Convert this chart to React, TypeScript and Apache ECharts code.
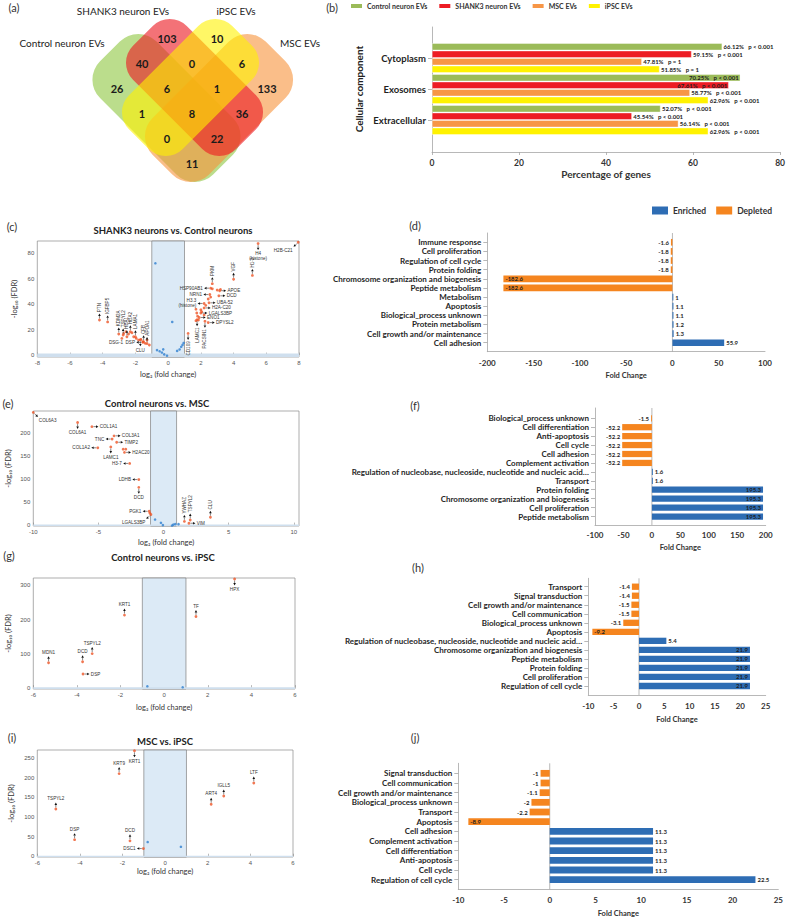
import React, { useEffect, useRef } from 'react';
import * as echarts from 'echarts';

const FONT = 'Lato, "Open Sans", sans-serif';
const PLOT_FONT = '"Liberation Sans", Arial, sans-serif';

// ---------- (a) Venn diagram of EV proteomes ----------
const vennSetNames = ['Control neuron EVs', 'SHANK3 neuron EVs', 'iPSC EVs', 'MSC EVs'];
// region keys use G = control, R = SHANK3, Y = iPSC, O = MSC
const vennRegionKeys = ['R', 'Y', 'GR', 'RY', 'YO', 'G', 'GRY', 'RYO', 'O', 'GY', 'GRYO', 'RO', 'GYO', 'GRO', 'GO'];
const vennRegionCounts = [103, 10, 40, 0, 6, 26, 6, 1, 133, 1, 8, 36, 0, 22, 11];

// ---------- (b) cellular component ----------
const ccCategories = ['Cytoplasm', 'Exosomes', 'Extracellular'];
const evGroups = ['Control neuron EVs', 'SHANK3 neuron EVs', 'MSC EVs', 'iPSC EVs'];
const ccControl = [66.12, 70.25, 52.07];
const ccShank3 = [59.15, 67.61, 45.54];
const ccMsc = [47.81, 58.77, 56.14];
const ccIpsc = [51.85, 62.96, 62.96];
const ccPControl = ['< 0.001', '< 0.001', '< 0.001'];
const ccPShank3 = ['< 0.001', '< 0.001', '< 0.001'];
const ccPMsc = ['= 1', '< 0.001', '< 0.001'];
const ccPIpsc = ['= 1', '< 0.001', '< 0.001'];

// ---------- volcano plots ----------
type Pt = [number, number];

// (c) SHANK3 neurons vs. Control neurons
const cXTicks = [-8, -6, -4, -2, 0, 2, 4, 6, 8];
const cYTicks = [0, 20, 40, 60, 80];
const cSigPoints: Pt[] = [
  [-2.72, 17.0], [-2.58, 18.4], [-2.42, 16.5], [-2.21, 17.5], [-2.11, 14.4], [-1.95, 13.1], [-1.81, 11.8],
  [-1.66, 12.3], [-1.54, 10.5], [-1.4, 9.2], [-1.29, 11.8], [-1.15, 7.9], [-2.83, 13.1],
  [1.7, 36], [1.75, 33], [1.8, 30.5], [1.85, 27.5], [2.0, 35.5], [2.05, 34], [2.2, 31.5], [2.3, 39],
  [2.45, 44], [2.6, 45.5], [1.7, 27], [2.7, 52], [3.0, 51], [3.2, 51.5],
];
const cNsPoints: Pt[] = [
  [-0.78, 72], [0.25, 26], [-0.68, 3.9], [-0.52, 3.0], [-0.38, 2.0], [-0.3, 4.5], [-0.24, 0.6], [-0.07, -0.5],
  [0.55, 3.3], [0.7, 4.4], [0.8, 6.5], [0.88, 8], [0.95, 9.5],
];
const cGenes = ['H2B-C21', 'H4\n(histone)', 'H1-2', 'VGF', 'PKM', 'HSP90AB1', 'APOE', 'DCD', 'NRN1', 'H3.3\n(histone)',
  'UBA-52', 'H2A-C20', 'LGALS3BP', 'ENO1', 'DPYSL2', 'LAMC1', 'PACSIN1', 'CD109', 'PTN', 'IGFBP5', 'KDM2A',
  'TSPYL2', 'HBA1', 'HBA2', 'LAMA1', 'CFB', 'APOA1', 'DSG-1  DSP', 'CLU'];
const cGenePoints: Pt[] = [
  [7.95, 88.5], [5.5, 87.5], [5.15, 62.5], [4.0, 59.5], [2.7, 56], [2.6, 52.5], [3.15, 50.5], [3.1, 46.5],
  [2.55, 47.5], [2.2, 40.5], [2.5, 41], [2.2, 37], [2.0, 33], [1.9, 29.5], [2.45, 25.5], [1.77, 27.8],
  [2.25, 26.5], [1.22, 17], [-4.2, 27.5], [-3.7, 26], [-3.02, 16.5], [-2.75, 15.7], [-2.52, 14.4],
  [-2.31, 18.3], [-2.0, 14.4], [-1.5, 10.4], [-1.29, 9.1], [-1.55, 10], [-1.7, 12],
];
const cGeneDirs = ['dl', 'd', 'U', 'U', 'U', 'l', 'r', 'r', 'l', 'l', 'r', 'r', 'r', 'r', 'r', 'D', 'D', 'D',
  'U', 'U', 'U', 'U', 'U', 'U', 'U', 'U', 'U', 'l', 'd'];

// (e) Control neurons vs. MSC
const eXTicks = [-10, -5, 0, 5, 10];
const eYTicks = [0, 50, 100, 150, 200];
const eSigPoints: Pt[] = [[-3.1, 165], [-2.9, 165], [-1.05, 26]];
const eNsPoints: Pt[] = [[-0.65, 12], [-0.2, 5], [-0.05, 0], [0.65, -1], [0.75, 1], [0.9, 2], [1.15, 2]];
const eGenes = ['COL6A3', 'COL6A1', 'COL1A1', 'COL3A1', 'TNC', 'TIMP2', 'COL1A2', 'LAMC1', 'H2AC20', 'H3-7',
  'LDHB', 'DCD', 'PGK1', 'LGALS3BP', 'YWHAZ', 'TSPYL2', 'VIM', 'CLU'];
const eGenePoints: Pt[] = [
  [-10, 245], [-6.6, 223], [-5.5, 214], [-3.8, 194], [-3.95, 187], [-3.6, 180], [-5.05, 168], [-4.05, 170],
  [-3.0, 158], [-2.6, 134], [-1.9, 99], [-1.9, 82], [-1.1, 30], [-0.97, 23], [1.6, 8], [2.05, 11], [1.95, 4], [3.6, 17],
];
const eGeneDirs = ['dr', 'd', 'r', 'r', 'l', 'r', 'l', 'd', 'r', 'l', 'l', 'd', 'l', 'dl', 'U', 'U', 'r', 'U'];

// (g) Control neurons vs. iPSC
const gXTicks = [-6, -4, -2, 0, 2, 4, 6];
const gYTicks = [0, 100, 200, 300];
const gNsPoints: Pt[] = [[-0.77, 4], [0.85, 1]];
const gGenes = ['HPX', 'KRT1', 'TF', 'MDN1', 'DCD', 'TSPYL2', 'DSP'];
const gGenePoints: Pt[] = [[3.23, 319], [-1.82, 213], [1.46, 209], [-5.3, 73], [-3.74, 76], [-3.3, 100], [-3.72, 40]];
const gGeneDirs = ['d', 'u', 'u', 'u', 'u', 'u', 'r'];

// (i) MSC vs. iPSC
const iXTicks = [-6, -4, -2, 0, 2, 4, 6];
const iYTicks = [0, 50, 100, 150, 200, 250];
const iNsPoints: Pt[] = [[-0.82, 36], [0.74, 24]];
const iGenes = ['KRT1', 'KRT9', 'TSPYL2', 'DSP', 'DCD', 'DSC1', 'ART4', 'IGLL5', 'LTF'];
const iGenePoints: Pt[] = [[-1.44, 268], [-2.16, 210], [-5.13, 120], [-4.25, 42], [-1.65, 39], [-1.02, 19.5],
  [2.16, 132], [2.75, 153], [4.16, 186]];
const iGeneDirs = ['d', 'u', 'u', 'u', 'u', 'l', 'u', 'u', 'u'];

const FC_THRESHOLD = 1;
const FDR_THRESHOLD = 1.3;

// ---------- GO biological process fold changes ----------
const dCategories = ['Immune response', 'Cell proliferation', 'Regulation of cell cycle', 'Protein folding',
  'Chromosome organization and biogenesis', 'Peptide metabolism', 'Metabolism', 'Apoptosis',
  'Biological_process unknown', 'Protein metabolism', 'Cell growth and/or maintenance', 'Cell adhesion'];
const dValues = [-1.6, -1.8, -1.8, -1.8, -182.6, -182.6, 1, 1.1, 1.1, 1.2, 1.3, 55.9];

const fCategories = ['Biological_process unknown', 'Cell differentiation', 'Anti-apoptosis', 'Cell cycle',
  'Cell adhesion', 'Complement activation',
  'Regulation of nucleobase, nucleoside, nucleotide and nucleic acid\u2026', 'Transport', 'Protein folding',
  'Chromosome organization and biogenesis', 'Cell proliferation', 'Peptide metabolism'];
const fValues = [-1.5, -52.2, -52.2, -52.2, -52.2, -52.2, 1.6, 1.6, 195.3, 195.3, 195.3, 195.3];

const hCategories = ['Transport', 'Signal transduction', 'Cell growth and/or maintenance', 'Cell communication',
  'Biological_process unknown', 'Apoptosis',
  'Regulation of nucleobase, nucleoside, nucleotide and nucleic acid\u2026',
  'Chromosome organization and biogenesis', 'Peptide metabolism', 'Protein folding', 'Cell proliferation',
  'Regulation of cell cycle'];
const hValues = [-1.4, -1.4, -1.5, -1.5, -3.1, -9.2, 5.4, 21.9, 21.9, 21.9, 21.9, 21.9];

const jCategories = ['Signal transduction', 'Cell communication', 'Cell growth and/or maintenance',
  'Biological_process unknown', 'Transport', 'Apoptosis', 'Cell adhesion', 'Complement activation',
  'Cell differentiation', 'Anti-apoptosis', 'Cell cycle', 'Regulation of cell cycle'];
const jValues = [-1, -1, -1.1, -2, -2.2, -8.9, 11.3, 11.3, 11.3, 11.3, 11.3, 22.5];

// ---------- styling ----------
const ENRICHED = '#2E6DB4';
const DEPLETED = '#F5851F';
const AXIS_GRAY = '#A6A6A6';
const SIG_COLOR = '#EE5527';
const NS_COLOR = '#2F7FD0';
const SHADE = '#DCEAF6';

const DIR_VEC: Record<string, [number, number]> = {
  u: [0, -1], d: [0, 1], l: [-1, 0], r: [1, 0], U: [0, -1], D: [0, 1],
  dl: [-0.707, 0.707], dr: [0.707, 0.707], ul: [-0.707, -0.707], ur: [0.707, -0.707],
};
const DIR_TEXT: Record<string, [string, string, number]> = {
  u: ['center', 'bottom', 0], d: ['center', 'top', 0], l: ['right', 'middle', 0], r: ['left', 'middle', 0],
  U: ['left', 'middle', Math.PI / 2], D: ['right', 'middle', Math.PI / 2],
  dl: ['right', 'top', 0], dr: ['left', 'top', 0], ul: ['right', 'bottom', 0], ur: ['left', 'bottom', 0],
};

function txt(x: number, y: number, text: string, size: number, opts: any = {}) {
  const align = opts.align || 'center';
  const va = opts.va || 'middle';
  return {
    type: 'text', x, y, rotation: opts.rotation || 0, silent: true, z: 20,
    style: {
      text, fontSize: size, fontWeight: opts.weight || 'normal', fill: opts.color || '#333',
      fontFamily: opts.font || FONT, align, verticalAlign: va, textAlign: align, textVerticalAlign: va,
    },
  };
}

// arrow from a data point towards its gene label
function annotationRenderer(names: string[], dirs: string[]) {
  return (params: any, api: any) => {
    const i = params.dataIndex;
    const p = api.coord([api.value(0), api.value(1)]);
    const d = dirs[i];
    const [vx, vy] = DIR_VEC[d];
    const L = 6.5;
    const x1 = p[0] + vx * 1.6, y1 = p[1] + vy * 1.6;
    const x2 = p[0] + vx * L, y2 = p[1] + vy * L;
    const hl = 2.4, hw = 1.3;
    const bx = x2 - vx * hl, by = y2 - vy * hl;
    const nx = -vy, ny = vx;
    const [align, va, rot] = DIR_TEXT[d];
    const tx = p[0] + vx * (L + 1.3), ty = p[1] + vy * (L + 1.3);
    return {
      type: 'group',
      children: [
        { type: 'line', shape: { x1, y1, x2: bx, y2: by }, style: { stroke: '#111', lineWidth: 0.5 } },
        { type: 'polygon', shape: { points: [[x2, y2], [bx + nx * hw, by + ny * hw], [bx - nx * hw, by - ny * hw]] }, style: { fill: '#111' } },
        {
          type: 'text', x: tx, y: ty, rotation: rot,
          style: { text: names[i], fontSize: 4.6, fill: '#333', fontFamily: PLOT_FONT, align, verticalAlign: va, textAlign: align, textVerticalAlign: va, lineHeight: 5 },
        },
      ],
    };
  };
}

function buildOption() {
  const grid: any[] = [];
  const xAxis: any[] = [];
  const yAxis: any[] = [];
  const series: any[] = [];
  const graphic: any[] = [];

  // ---------- Venn (a) ----------
  const vennShapes = [
    { cx: 166.5, cy: 108, a: 80, b: 40, r: 26, rot: -Math.PI / 4, color: '#8DC63F', op: 0.6 },
    { cx: 219, cy: 108, a: 80, b: 40, r: 26, rot: Math.PI / 4, color: '#F7923A', op: 0.6 },
    { cx: 194.5, cy: 87.5, a: 73, b: 38, r: 24, rot: -Math.PI / 4, color: '#EC1C24', op: 0.62 },
    { cx: 190.5, cy: 87.5, a: 73, b: 38, r: 24, rot: Math.PI / 4, color: '#FFF200', op: 0.6 },
  ];
  vennShapes.forEach((s) => {
    graphic.push({
      type: 'rect', x: s.cx, y: s.cy, rotation: s.rot, silent: true, z: 1,
      shape: { x: -s.a, y: -s.b, width: 2 * s.a, height: 2 * s.b, r: s.r },
      style: { fill: s.color, opacity: s.op },
    });
  });
  const cellRange: Record<string, [[number, number], [number, number]]> = {
    G: [[-2, 1], [0, 1]], R: [[-2, 1], [-1, 0]], Y: [[-1, 0], [-2, 1]], O: [[0, 1], [-2, 1]],
  };
  for (let s = -2; s <= 1; s++) {
    for (let t = -2; t <= 1; t++) {
      const key = ['G', 'R', 'Y', 'O'].filter((k) => {
        const [sr, tr] = cellRange[k];
        return s >= sr[0] && s <= sr[1] && t >= tr[0] && t <= tr[1];
      }).join('');
      const idx = vennRegionKeys.indexOf(key);
      if (idx < 0) continue;
      graphic.push(txt(192 + 25 * (s - t), 113 + 25 * (s + t), String(vennRegionCounts[idx]), 11, { weight: 'bold', color: '#1a1a1a' }));
    }
  }
  graphic.push(txt(62, 43, vennSetNames[0], 10, { color: '#222' }));
  graphic.push(txt(123, 11, vennSetNames[1], 10, { color: '#222' }));
  graphic.push(txt(236, 11, vennSetNames[2], 10, { color: '#222' }));
  graphic.push(txt(300, 43, vennSetNames[3], 10, { color: '#222' }));

  // panel letters
  const letters: [string, number, number][] = [
    ['(a)', 14, 7], ['(b)', 332, 7], ['(c)', 12, 226], ['(d)', 415, 225], ['(e)', 8, 403],
    ['(f)', 415, 405], ['(g)', 9, 555], ['(h)', 418, 567], ['(i)', 12, 737], ['(j)', 415, 737],
  ];
  letters.forEach(([l, x, y]) => graphic.push(txt(x, y, l, 11, { color: '#333' })));

  // ---------- volcano helper ----------
  const addVolcano = (v: any) => {
    const gi = grid.length;
    grid.push({ left: v.box[0], top: v.box[1], width: v.box[2], height: v.box[3], show: true, borderColor: '#8a8a8a', borderWidth: 0.7, backgroundColor: '#fff' });
    xAxis.push({
      gridIndex: gi, type: 'value', min: v.xr[0], max: v.xr[1],
      axisLine: { show: false }, splitLine: { show: false },
      axisTick: { show: true, inside: true, length: 2.5, lineStyle: { color: '#8a8a8a', width: 0.6 }, customValues: v.xt },
      axisLabel: { fontSize: 6, color: '#555', margin: 3, fontFamily: PLOT_FONT, customValues: v.xt },
      name: 'log\u2082 (fold change)', nameLocation: 'middle', nameGap: v.xg,
      nameTextStyle: { fontSize: 7.5, color: '#333', fontFamily: FONT },
    });
    yAxis.push({
      gridIndex: gi, type: 'value', min: v.yr[0], max: v.yr[1],
      axisLine: { show: false }, splitLine: { show: false },
      axisTick: { show: true, inside: true, length: 2.5, lineStyle: { color: '#8a8a8a', width: 0.6 }, customValues: v.yt },
      axisLabel: { fontSize: 6, color: '#555', margin: 3, fontFamily: PLOT_FONT, customValues: v.yt },
      name: '-log\u2081\u2080 (FDR)', nameLocation: 'middle', nameGap: v.yg, nameRotate: 90,
      nameTextStyle: { fontSize: 7.5, color: '#333', fontFamily: FONT },
    });
    series.push({
      type: 'scatter', xAxisIndex: gi, yAxisIndex: gi, data: v.ns, symbolSize: 2.6, silent: true, z: 3,
      itemStyle: { color: NS_COLOR },
      markArea: {
        silent: true,
        data: [
          [{ xAxis: -FC_THRESHOLD, itemStyle: { color: SHADE, borderColor: '#808080', borderWidth: 0.7 } }, { xAxis: FC_THRESHOLD }],
          [{ yAxis: v.yr[0], itemStyle: { color: '#CFDFEE', borderWidth: 0 } }, { yAxis: FDR_THRESHOLD }],
        ],
      },
    });
    series.push({
      type: 'scatter', xAxisIndex: gi, yAxisIndex: gi, data: [...v.sig, ...v.pts], symbolSize: 2.8, silent: true, z: 4,
      itemStyle: { color: SIG_COLOR },
    });
    series.push({
      type: 'custom', xAxisIndex: gi, yAxisIndex: gi, data: v.pts, silent: true, z: 5, clip: false,
      renderItem: annotationRenderer(v.genes, v.dirs),
    });
    graphic.push(txt(v.title[1], v.title[2], v.title[0], 9.5, { weight: 'bold', color: '#222' }));
  };

  addVolcano({ box: [37.3, 241, 261.7, 116], xr: [-8, 8], yr: [-1.5, 89.5], xt: cXTicks, yt: cYTicks, xg: 13, yg: 19,
    ns: cNsPoints, sig: cSigPoints, pts: cGenePoints, genes: cGenes, dirs: cGeneDirs, title: ['SHANK3 neurons vs. Control neurons', 173, 230] });
  addVolcano({ box: [33.3, 411, 265.7, 115], xr: [-10, 10.4], yr: [-2, 248], xt: eXTicks, yt: eYTicks, xg: 12, yg: 21,
    ns: eNsPoints, sig: eSigPoints, pts: eGenePoints, genes: eGenes, dirs: eGeneDirs, title: ['Control neurons vs. MSC', 157, 403] });
  addVolcano({ box: [33.3, 578, 261.7, 111], xr: [-6, 6], yr: [-4, 322], xt: gXTicks, yt: gYTicks, xg: 14, yg: 21,
    ns: gNsPoints, sig: [], pts: gGenePoints, genes: gGenes, dirs: gGeneDirs, title: ['Control neurons vs. iPSC', 163, 557] });
  addVolcano({ box: [37.3, 750, 255.7, 107], xr: [-6, 6], yr: [-2, 270], xt: iXTicks, yt: iYTicks, xg: 10, yg: 22,
    ns: iNsPoints, sig: [], pts: iGenePoints, genes: iGenes, dirs: iGeneDirs, title: ['MSC vs. iPSC', 165, 741] });

  // ---------- frame (axes box) helper for the bar panels ----------
  const addFrame = (f: any) => {
    const fi = grid.length;
    grid.push({ left: f.box[0], top: f.box[1], width: f.box[2], height: f.box[3] });
    xAxis.push({
      gridIndex: fi, type: 'value', min: f.range[0], max: f.range[1], interval: f.interval,
      axisLine: { show: true, lineStyle: { color: AXIS_GRAY, width: 0.8 } },
      axisTick: f.ticks ? { show: true, length: 3, lineStyle: { color: AXIS_GRAY, width: 0.8 } } : { show: false },
      splitLine: { show: false },
      axisLabel: { fontSize: f.labelSize, fontWeight: 'bold', color: '#333', margin: f.labelMargin },
      name: f.name, nameLocation: 'middle', nameGap: f.nameGap,
      nameTextStyle: { fontSize: f.nameSize, fontWeight: 'bold', color: '#333' },
    });
    yAxis.push({
      gridIndex: fi, type: 'value', min: 0, max: 1,
      axisLine: { show: true, onZero: false, lineStyle: { color: AXIS_GRAY, width: 0.8 } },
      axisTick: { show: false }, axisLabel: { show: false }, splitLine: { show: false },
    });
    if (f.zeroLine) {
      series.push({ type: 'line', xAxisIndex: fi, yAxisIndex: fi, data: [[0, 0], [0, 1]], symbol: 'none', silent: true, z: 1,
        lineStyle: { color: AXIS_GRAY, width: 0.8 } });
    }
  };
  const addBarGrid = (b: any) => {
    const bi = grid.length;
    grid.push({ left: b.left, top: b.top, width: b.width, height: b.height });
    xAxis.push({ gridIndex: bi, type: 'value', min: b.range[0], max: b.range[1], show: false });
    yAxis.push({
      gridIndex: bi, type: 'category', inverse: true, data: b.cats,
      axisLine: { show: false, onZero: false },
      axisTick: { show: true, alignWithLabel: true, interval: 0, length: 4, lineStyle: { color: AXIS_GRAY, width: 0.8 } },
      axisLabel: { fontSize: b.labelSize, fontWeight: 'bold', color: '#1f1f1f', margin: 6, interval: 0 },
      splitLine: { show: false },
      name: b.name || '', nameLocation: 'middle', nameRotate: 90, nameGap: b.nameGap || 0,
      nameTextStyle: { fontSize: 10, fontWeight: 'bold', color: '#222' },
    });
    return bi;
  };

  // ---------- (b) ----------
  addFrame({ box: [432, 27, 351, 125], range: [0, 80], interval: 20, ticks: true, labelSize: 8.5, labelMargin: 6,
    name: 'Percentage of genes', nameGap: 17, nameSize: 10 });
  const bGrid = addBarGrid({ left: 432, top: 42.5, width: 351, height: 93, range: [0, 80], cats: ccCategories,
    labelSize: 9.5, name: 'Cellular component', nameGap: 68 });
  const bColors = ['#9BBB59', '#ED1C24', '#F79646', '#FFF200'];
  const bVals = [ccControl, ccShank3, ccMsc, ccIpsc];
  const bP = [ccPControl, ccPShank3, ccPMsc, ccPIpsc];
  evGroups.forEach((name, k) => {
    series.push({
      type: 'bar', name, xAxisIndex: bGrid, yAxisIndex: bGrid, silent: true,
      barGap: '8%', barCategoryGap: '5%',
      itemStyle: { color: bColors[k], borderColor: '#fff', borderWidth: 0.4 },
      data: bVals[k].map((v, i) => ({ value: v, label: { position: v > 67 ? 'insideRight' : 'right' }, p: bP[k][i] })),
      label: {
        show: true, fontSize: 6, fontWeight: 'bold', color: '#222', distance: 1.5,
        formatter: (q: any) => `${q.value.toFixed(2)}%   p ${q.data.p}`,
      },
    });
  });

  // ---------- fold change panels ----------
  const addFc = (p: any) => {
    addFrame({ box: p.frame, range: p.range, interval: p.interval, ticks: false, labelSize: 8, labelMargin: p.labelMargin,
      name: 'Fold Change', nameGap: p.nameGap, nameSize: 7.5, zeroLine: true });
    const bi = addBarGrid({ left: p.frame[0], top: p.barTop, width: p.frame[2], height: p.barH, range: p.range, cats: p.cats, labelSize: 8 });
    const mk = (sign: number) => p.vals.map((v: number) => {
      if (sign * v <= 0) return '-';
      const inside = v <= p.negInside || v >= p.posInside;
      const pos = v < 0 ? (inside ? 'insideLeft' : 'left') : (inside ? 'insideRight' : 'right');
      return { value: v, label: { position: pos } };
    });
    const label = { show: true, fontSize: 6, fontWeight: 'bold', color: '#1f1f1f', distance: 2, formatter: (q: any) => String(q.value) };
    series.push({ type: 'bar', name: 'Enriched', xAxisIndex: bi, yAxisIndex: bi, data: mk(1), barGap: '-100%', barCategoryGap: p.gap,
      itemStyle: { color: ENRICHED }, label, silent: true, z: 3 });
    series.push({ type: 'bar', name: 'Depleted', xAxisIndex: bi, yAxisIndex: bi, data: mk(-1), barGap: '-100%', barCategoryGap: p.gap,
      itemStyle: { color: DEPLETED }, label, silent: true, z: 3 });
  };

  addFc({ frame: [487.3, 233, 277.7, 118.7], barTop: 237.7, barH: 109.6, range: [-200, 100], interval: 50, cats: dCategories, vals: dValues,
    gap: '27%', negInside: -100, posInside: 100, labelMargin: 7, nameGap: 20 });
  addFc({ frame: [595, 408, 170.7, 117], barTop: 413.8, barH: 107.2, range: [-100, 200], interval: 50, cats: fCategories, vals: fValues,
    gap: '30%', negInside: -100, posInside: 100, labelMargin: 6, nameGap: 18 });
  addFc({ frame: [588.3, 578.3, 177.4, 116.7], barTop: 582.2, barH: 108.3, range: [-10, 25], interval: 5, cats: hCategories, vals: hValues,
    gap: '30%', negInside: -6, posInside: 20, labelMargin: 7, nameGap: 20 });
  addFc({ frame: [458.3, 763.3, 320, 126], barTop: 768.5, barH: 116, range: [-10, 25], interval: 5, cats: jCategories, vals: jValues,
    gap: '30%', negInside: -6, posInside: 24, labelMargin: 7, nameGap: 20 });

  return {
    animation: false,
    backgroundColor: '#fff',
    textStyle: { fontFamily: FONT },
    legend: [
      { data: evGroups, left: 349, top: 2, padding: 0, itemWidth: 13, itemHeight: 6, itemGap: 10, icon: 'rect',
        selectedMode: false, textStyle: { fontSize: 7, fontWeight: 'bold', color: '#333', padding: [0, 0, 0, -1] } },
      { data: ['Enriched', 'Depleted'], left: 652, top: 206, padding: 0, itemWidth: 16, itemHeight: 8, itemGap: 10, icon: 'rect',
        selectedMode: false, textStyle: { fontSize: 8.5, fontWeight: 'bold', color: '#333' } },
    ],
    grid, xAxis, yAxis, series, graphic,
  };
}

export default function App() {
  const ref = useRef<HTMLDivElement>(null);
  useEffect(() => {
    if (!ref.current) return;
    const chart = echarts.init(ref.current, null, { renderer: 'svg' });
    chart.setOption(buildOption() as any);
    return () => chart.dispose();
  }, []);
  return <div ref={ref} style={{ position: 'absolute', left: 0, top: 0, width: 788, height: 920, background: '#fff' }} />;
}
